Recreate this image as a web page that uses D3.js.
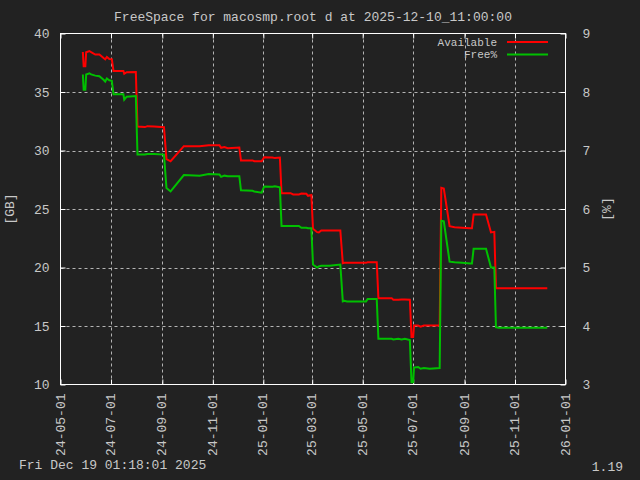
<!DOCTYPE html>
<html>
<head>
<meta charset="utf-8">
<script src="https://cdn.jsdelivr.net/npm/d3@7"></script>
<style>
html,body{margin:0;padding:0;background:#222222;}
svg{display:block;}
text{font-family:'Courier New','Liberation Mono',monospace;font-size:13px;fill:#c8c8c8;}
</style>
</head>
<body>
<svg id="chart" width="640" height="480"></svg>
<script>
const titleText = "FreeSpace for macosmp.root d at 2025-12-10_11:00:00";
const footerLeft = "Fri Dec 19 01:18:01 2025";
const footerRight = "1.19";
const seriesNames = ["Available", "Free%"];

const dates = [
"2024-05-28","2024-05-29","2024-05-31","2024-06-01","2024-06-05","2024-06-07","2024-06-12","2024-06-17",
"2024-06-22","2024-06-24","2024-06-26","2024-06-29","2024-07-02","2024-07-04","2024-07-16","2024-07-17",
"2024-07-20","2024-07-31","2024-08-02","2024-08-11","2024-08-14","2024-08-22","2024-09-03","2024-09-06",
"2024-09-11","2024-09-27","2024-10-16","2024-10-27","2024-11-09","2024-11-11","2024-11-15","2024-11-19",
"2024-12-03","2024-12-05","2024-12-19","2024-12-21","2024-12-30","2025-01-02","2025-01-12","2025-01-15",
"2025-01-21","2025-01-23","2025-02-03","2025-02-06","2025-02-13","2025-02-16","2025-02-22","2025-02-24",
"2025-02-28","2025-03-02","2025-03-07","2025-03-09","2025-03-12","2025-03-22","2025-04-04","2025-04-07",
"2025-04-09","2025-04-12","2025-05-05","2025-05-07","2025-05-18","2025-05-20","2025-06-05","2025-06-07",
"2025-06-13","2025-06-17","2025-06-21","2025-06-27","2025-06-29","2025-07-01","2025-07-02","2025-07-07",
"2025-07-10","2025-07-14","2025-07-21","2025-08-02","2025-08-04","2025-08-07","2025-08-14","2025-08-20",
"2025-08-29","2025-09-08","2025-09-10","2025-09-12","2025-09-27","2025-10-03","2025-10-07","2025-10-09",
"2025-10-12","2025-12-10"];

const available = [
38.42,37.2,37.2,38.4,38.5,38.4,38.2,38.2,
37.9,37.8,38.0,37.82,37.8,36.8,36.8,36.56,
36.69,36.7,32.05,32.0,32.08,32.05,31.99,29.27,
29.08,30.37,30.37,30.45,30.45,30.23,30.3,30.2,
30.25,29.15,29.15,29.08,29.08,29.43,29.4,29.35,
29.4,26.35,26.35,26.25,26.25,26.32,26.3,26.13,
26.2,23.31,23.02,23.0,23.16,23.16,23.16,20.37,
20.4,20.4,20.4,20.45,20.45,17.38,17.38,17.24,
17.24,17.26,17.26,17.24,14.05,14.05,15.04,15.04,
14.95,15.04,15.04,15.04,26.81,26.75,23.53,23.45,
23.4,23.36,23.36,24.53,24.53,23.0,23.05,18.23,
18.23,18.23];

const freePct = [
8.30,8.04,8.04,8.30,8.32,8.30,8.28,8.27,
8.21,8.18,8.23,8.20,8.19,7.96,7.96,7.87,
7.92,7.93,6.93,6.93,6.94,6.94,6.93,6.36,
6.30,6.58,6.57,6.60,6.59,6.55,6.57,6.56,
6.56,6.32,6.31,6.30,6.28,6.385,6.38,6.39,
6.37,5.71,5.71,5.71,5.71,5.68,5.68,5.67,
5.67,5.05,5.00,5.02,5.03,5.03,5.05,4.42,
4.43,4.42,4.42,4.46,4.46,3.78,3.78,3.77,
3.78,3.77,3.78,3.76,3.04,3.04,3.29,3.30,
3.27,3.28,3.27,3.28,5.80,5.79,5.10,5.09,
5.08,5.07,5.07,5.32,5.32,5.00,5.00,3.98,
3.97,3.97];

const xTickLabels = ["24-05-01","24-07-01","24-09-01","24-11-01","25-01-01","25-03-01",
                     "25-05-01","25-07-01","25-09-01","25-11-01","26-01-01"];
const yLeftTicks = [10,15,20,25,30,35,40];
const yRightTicks = [3,4,5,6,7,8,9];

const parseDay = d3.timeParse("%Y-%m-%d");
const parseTick = d3.timeParse("%y-%m-%d");
const fmtTick = d3.timeFormat("%y-%m-%d");
const FONT = "'Courier New','Liberation Mono',monospace";

const L = 60.5, R = 565.5, T = 33.5, B = 384.5;
const svg = d3.select("#chart");
svg.append("rect").attr("width",640).attr("height",480).attr("fill","#222222");

const x = d3.scaleTime().domain([parseTick("24-05-01"), parseTick("26-01-01")]).range([L, R]);
const yL = d3.scaleLinear().domain([10,40]).range([B, T]);
const yR = d3.scaleLinear().domain([3,9]).range([B, T]);

const xTicks = xTickLabels.map(parseTick);

// grid
const grid = svg.append("g").attr("stroke","#b4b4b4").attr("stroke-width",1).attr("stroke-dasharray","3,3");
xTicks.slice(1,-1).forEach(t=>{
  const px = Math.round(x(t)) + 0.5;
  grid.append("line").attr("x1",px).attr("x2",px).attr("y1",T).attr("y2",B);
});
yLeftTicks.slice(1,-1).forEach(v=>{
  const py = Math.round(yL(v)) + 0.5;
  grid.append("line").attr("x1",L).attr("x2",R).attr("y1",py).attr("y2",py);
});

// axes via d3
const tk = 5;
const xAxisB = d3.axisBottom(x).tickValues(xTicks).tickFormat(fmtTick).tickSizeInner(-tk).tickSizeOuter(0).tickPadding(8);
const gxB = svg.append("g").attr("transform",`translate(0,${B})`).call(xAxisB);
gxB.select(".domain").remove();
gxB.selectAll(".tick line").attr("stroke","#ffffff");
gxB.selectAll(".tick text")
  .attr("transform","rotate(-90)")
  .attr("text-anchor","end")
  .attr("x",-9).attr("y",-1).attr("dy","0.35em")
  .style("font-size","13px").style("fill","#c8c8c8").style("font-family",FONT);

const xAxisT = d3.axisTop(x).tickValues(xTicks).tickFormat("").tickSizeInner(-tk).tickSizeOuter(0);
const gxT = svg.append("g").attr("transform",`translate(0,${T})`).call(xAxisT);
gxT.select(".domain").remove();
gxT.selectAll(".tick line").attr("stroke","#ffffff");

const yAxisL = d3.axisLeft(yL).tickValues(yLeftTicks).tickFormat(d3.format("d")).tickSizeInner(-tk).tickSizeOuter(0).tickPadding(11);
const gyL = svg.append("g").attr("transform",`translate(${L},0)`).call(yAxisL);
gyL.select(".domain").remove();
gyL.selectAll(".tick line").attr("stroke","#ffffff");
gyL.selectAll(".tick text").style("font-size","13px").style("fill","#c8c8c8").style("font-family",FONT);

const yAxisR = d3.axisRight(yR).tickValues(yRightTicks).tickFormat(d3.format("d")).tickSizeInner(-tk).tickSizeOuter(0).tickPadding(17);
const gyR = svg.append("g").attr("transform",`translate(${R},0)`).call(yAxisR);
gyR.select(".domain").remove();
gyR.selectAll(".tick line").attr("stroke","#ffffff");
gyR.selectAll(".tick text").style("font-size","13px").style("fill","#c8c8c8").style("font-family",FONT);

// frame
svg.append("rect").attr("x",L).attr("y",T).attr("width",R-L).attr("height",B-T)
  .attr("fill","none").attr("stroke","#ffffff").attr("stroke-width",1);

// lines
const pts = dates.map((d,i)=>({t:parseDay(d), a:available[i], f:freePct[i]}));
const lineA = d3.line().x(d=>x(d.t)).y(d=>yL(d.a));
const lineF = d3.line().x(d=>x(d.t)).y(d=>yR(d.f));
svg.append("path").datum(pts).attr("d",lineA).attr("fill","none").attr("stroke","#ff0000").attr("stroke-width",2);
svg.append("path").datum(pts).attr("d",lineF).attr("fill","none").attr("stroke","#00c000").attr("stroke-width",2);

// legend
const legColors = ["#ff0000","#00c000"];
const legY = [42, 54.5];
seriesNames.forEach((n,i)=>{
  svg.append("text").attr("x",497).attr("y",legY[i]).attr("dy","0.35em").attr("text-anchor","end")
    .style("font-size","11px").text(n);
  svg.append("line").attr("x1",507).attr("x2",548).attr("y1",legY[i]).attr("y2",legY[i])
    .attr("stroke",legColors[i]).attr("stroke-width",2);
});

// title & labels
svg.append("text").attr("x",313).attr("y",16).attr("dy","0.35em").attr("text-anchor","middle").text(titleText);
svg.append("text").attr("transform",`translate(14,${(T+B)/2}) rotate(-90)`).attr("text-anchor","middle").text("[GB]");
svg.append("text").attr("transform",`translate(611,${(T+B)/2}) rotate(-90)`).attr("text-anchor","middle").text("[%]");
svg.append("text").attr("x",19).attr("y",469).text(footerLeft);
svg.append("text").attr("x",623).attr("y",471).attr("text-anchor","end").text(footerRight);
</script>
</body>
</html>
